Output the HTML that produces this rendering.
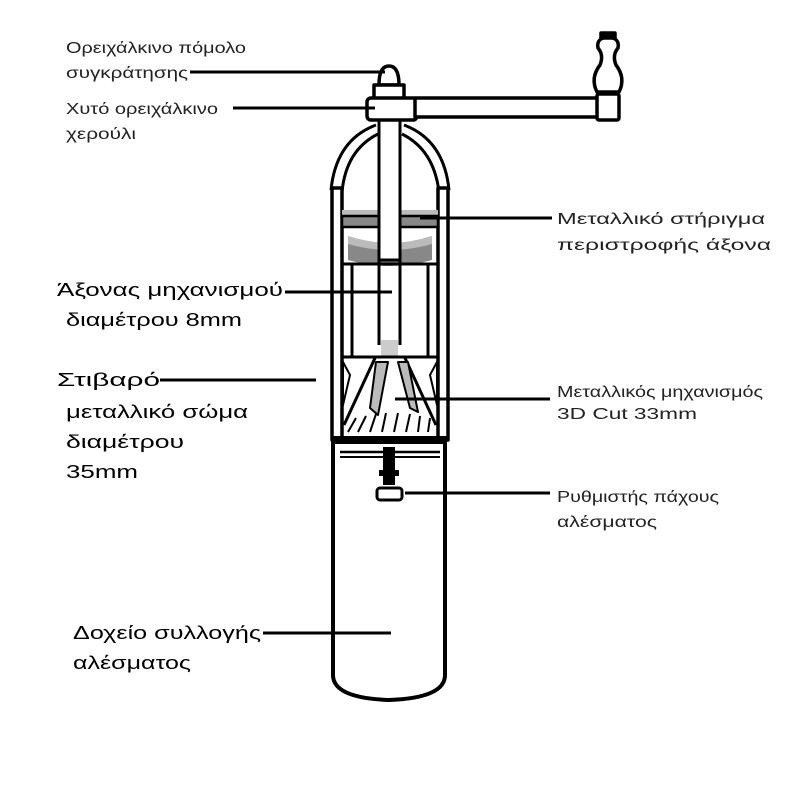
<!DOCTYPE html>
<html><head><meta charset="utf-8"><style>
html,body{margin:0;padding:0;background:#fff}
svg{display:block}
text{font-family:"Liberation Sans","DejaVu Sans",sans-serif;fill:#222}
.n{font-size:16px}
.b{font-size:18px;fill:#000}
</style></head><body>
<svg width="800" height="800" viewBox="0 0 800 800">
<rect width="800" height="800" fill="#fff"/>
<!-- labels -->
<text class="n" x="66" y="53" textLength="180" lengthAdjust="spacingAndGlyphs">Ορειχάλκινο πόμολο</text>
<text class="n" x="66" y="78" textLength="122" lengthAdjust="spacingAndGlyphs">συγκράτησης</text>
<text class="n" x="66" y="114" textLength="152" lengthAdjust="spacingAndGlyphs">Χυτό ορειχάλκινο</text>
<text class="n" x="66" y="139" textLength="70" lengthAdjust="spacingAndGlyphs">χερούλι</text>
<text class="n" x="557" y="224" textLength="208" lengthAdjust="spacingAndGlyphs">Μεταλλικό στήριγμα</text>
<text class="n" x="557" y="250" textLength="214" lengthAdjust="spacingAndGlyphs">περιστροφής άξονα</text>
<text class="b" x="57" y="296" textLength="226" lengthAdjust="spacingAndGlyphs">Άξονας μηχανισμού</text>
<text class="b" x="66" y="326" textLength="176" lengthAdjust="spacingAndGlyphs">διαμέτρου 8mm</text>
<text class="b" x="57" y="386" textLength="103" lengthAdjust="spacingAndGlyphs">Στιβαρό</text>
<text class="b" x="66" y="418" textLength="182" lengthAdjust="spacingAndGlyphs">μεταλλικό σώμα</text>
<text class="b" x="66" y="448" textLength="118" lengthAdjust="spacingAndGlyphs">διαμέτρου</text>
<text class="b" x="66" y="478" textLength="72" lengthAdjust="spacingAndGlyphs">35mm</text>
<text class="n" x="557" y="397" textLength="206" lengthAdjust="spacingAndGlyphs">Μεταλλικός μηχανισμός</text>
<text class="n" x="557" y="419" textLength="140" lengthAdjust="spacingAndGlyphs">3D Cut 33mm</text>
<text class="n" x="557" y="502" textLength="162" lengthAdjust="spacingAndGlyphs">Ρυθμιστής πάχους</text>
<text class="n" x="557" y="527" textLength="100" lengthAdjust="spacingAndGlyphs">αλέσματος</text>
<text class="b" x="73" y="639" textLength="188" lengthAdjust="spacingAndGlyphs">Δοχείο συλλογής</text>
<text class="b" x="73" y="669" textLength="118" lengthAdjust="spacingAndGlyphs">αλέσματος</text>

<!-- drawing -->
<g stroke="#000" stroke-width="3.5" fill="#fff" stroke-linejoin="round">
  <!-- arch -->
  <path d="M331 190 Q336 140 376 125" fill="none" stroke-width="3"/>
  <path d="M342 192 Q346 150 378 134" fill="none" stroke-width="3"/>
  <path d="M449 190 Q444 140 404 125" fill="none" stroke-width="3"/>
  <path d="M439 192 Q434 150 402 134" fill="none" stroke-width="3"/>
  <!-- posts -->
  <rect x="332" y="188" width="10" height="252"/>
  <rect x="438" y="188" width="10" height="252"/>
  <!-- band -->
  <rect x="342" y="210" width="96" height="6" fill="#bbb" stroke="none"/>
  <rect x="342" y="216" width="96" height="11" fill="#888" stroke-width="2.5"/>
  <path d="M348 236 Q390 250 432 236 L432 260 Q390 272 348 260 Z" fill="#888" stroke="none"/>
  <path d="M348 236 Q390 250 432 236 L432 244 Q390 256 348 244 Z" fill="#bbb" stroke="none"/>
  <line x1="342" y1="264" x2="438" y2="264" stroke-width="3"/>
  <line x1="352" y1="264" x2="352" y2="356" stroke-width="3"/>
  <line x1="428" y1="264" x2="428" y2="356" stroke-width="3"/>
  <!-- shaft -->
  <rect x="379" y="110" width="21" height="150" stroke-width="3"/>
  <line x1="379" y1="260" x2="379" y2="345" stroke-width="3"/>
  <line x1="400" y1="260" x2="400" y2="345" stroke-width="3"/>
  <rect x="381" y="340" width="17" height="16" fill="#ccc" stroke="none"/>
  <!-- knob, nut, hub -->
  <path d="M379 85 Q379 66 389 66 Q399 66 399 85 Z"/>
  <rect x="374" y="85" width="30" height="15"/>
  <rect x="367" y="98" width="50" height="22" rx="4"/>
  <!-- crank arm -->
  <rect x="415" y="98" width="190" height="19"/>
  <rect x="597" y="94" width="22" height="26" rx="2"/>
  <path d="M597 92 Q590 78 600 65 Q604 55 598 48 Q596 38 608 37 Q620 38 618 48 Q612 55 616 65 Q626 78 619 92 Z"/>
  <rect x="601" y="33" width="14" height="5" fill="#000"/>
  <!-- cone section -->
  <line x1="342" y1="357" x2="438" y2="357" stroke-width="3"/>
  <path d="M343 362 L350 375 L343 405 Z M437 362 L430 375 L437 405 Z" fill="none" stroke-width="2"/>
  <path d="M375 358 L344 425 M405 358 L436 425" fill="none" stroke-width="3"/>
  <path d="M376 362 L370 408 L378 415 L388 362 Z" fill="#bbb" stroke-width="2"/>
  <path d="M398 362 L410 408 L418 412 L408 362 Z" fill="#bbb" stroke-width="2"/>
  <path d="M348 432 L356 418 M358 432 L366 416 M370 432 L376 414 M382 432 L386 413 M394 432 L398 413 M406 432 L410 414 M418 432 L420 416 M428 432 L430 418" stroke-width="2" fill="none"/>
  <!-- body -->
  <path d="M333 437 L333 675 Q333 698 389 700 Q445 698 445 675 L445 437" fill="#fff" stroke-width="4"/>
  <rect x="333" y="436" width="114" height="8" fill="#000" stroke="none"/>
  <line x1="340" y1="452" x2="440" y2="452" stroke-width="2.5"/>
  <line x1="340" y1="457" x2="440" y2="457" stroke-width="2"/>
  <!-- adjuster -->
  <rect x="383" y="447" width="12" height="38" fill="#000" stroke="none"/>
  <rect x="379" y="470" width="20" height="6" fill="#000" stroke="none"/>
  <rect x="377" y="488" width="25" height="12" rx="3" stroke-width="3"/>
</g>
<!-- leader lines -->
<g stroke="#000" stroke-width="3">
  <line x1="190" y1="72" x2="385" y2="72"/>
  <line x1="233" y1="108" x2="375" y2="108"/>
  <line x1="420" y1="218" x2="552" y2="218"/>
  <line x1="285" y1="292" x2="392" y2="292"/>
  <line x1="160" y1="380" x2="316" y2="380"/>
  <line x1="395" y1="399" x2="550" y2="399"/>
  <line x1="405" y1="493" x2="550" y2="493"/>
  <line x1="263" y1="633" x2="391" y2="633"/>
</g>
</svg>
</body></html>
